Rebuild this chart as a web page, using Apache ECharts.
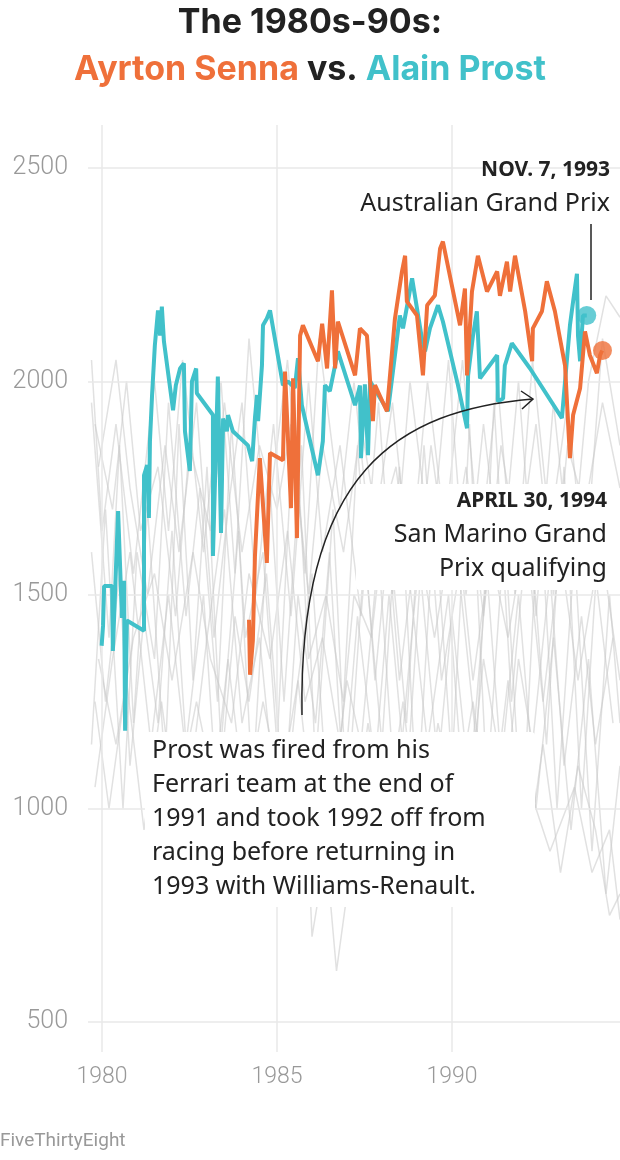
<!DOCTYPE html>
<html><head><meta charset="utf-8">
<script src="https://cdn.jsdelivr.net/npm/echarts@6/dist/echarts.min.js"></script>
<style>html,body{margin:0;padding:0;background:#fff}#c{width:620px;height:1160px}</style>
</head><body><div id="c"></div>
<script>
const yTicks = [500, 1000, 1500, 2000, 2500];
const xTicks = [1980, 1985, 1990];
const prost = [[1979.99,1381],[1980.03,1428],[1980.06,1521],[1980.29,1521],[1980.31,1369],[1980.46,1696],[1980.57,1446],[1980.63,1533],[1980.66,1182],[1980.71,1440],[1981.2,1416],[1981.2,1780],[1981.29,1804],[1981.34,1680],[1981.37,1860],[1981.43,1967],[1981.51,2084],[1981.6,2166],[1981.66,2107],[1981.71,2175],[1981.77,2093],[1982.03,1932],[1982.11,1991],[1982.23,2030],[1982.34,2042],[1982.37,1883],[1982.51,1790],[1982.57,2000],[1982.69,2030],[1982.71,1972],[1983.17,1921],[1983.17,1591],[1983.31,2011],[1983.4,1645],[1983.46,1913],[1983.57,1883],[1983.6,1921],[1983.74,1883],[1984.17,1850],[1984.29,1813],[1984.37,1914],[1984.43,1968],[1984.46,1907],[1984.57,2037],[1984.6,2131],[1984.71,2147],[1984.8,2166],[1985.17,1991],[1985.31,2000],[1985.51,1984],[1985.6,2054],[1985.71,1944],[1986.17,1780],[1986.31,1860],[1986.37,1991],[1986.51,1977],[1986.74,2070],[1987.23,1944],[1987.37,1990],[1987.4,1820],[1987.51,1993],[1987.6,1827],[1987.66,2000],[1988.17,1930],[1988.37,2061],[1988.51,2154],[1988.6,2124],[1988.86,2241],[1989.14,2100],[1989.23,2070],[1989.37,2124],[1989.6,2178],[1989.74,2140],[1990.17,1991],[1990.43,1890],[1990.46,2014],[1990.6,2107],[1990.71,2164],[1990.8,2007],[1991.29,2061],[1991.31,1953],[1991.46,1960],[1991.51,2037],[1991.71,2089],[1992.23,2030],[1993.14,1914],[1993.23,2000],[1993.37,2131],[1993.46,2187],[1993.57,2252],[1993.6,2107],[1993.66,2047],[1993.74,2154],[1993.85,2154]];
const senna = [[1984.2,1442],[1984.23,1313],[1984.31,1393],[1984.37,1591],[1984.51,1820],[1984.71,1575],[1984.8,1832],[1985.17,1815],[1985.23,2023],[1985.4,1703],[1985.46,2007],[1985.57,1633],[1985.66,2107],[1985.74,2131],[1986.17,2047],[1986.29,2135],[1986.43,2030],[1986.57,2213],[1986.66,2030],[1986.74,2140],[1987.23,2014],[1987.37,2124],[1987.57,2107],[1987.74,1907],[1987.8,1991],[1988.14,1930],[1988.37,2147],[1988.57,2257],[1988.66,2294],[1988.71,2187],[1989.0,2154],[1989.17,2014],[1989.29,2178],[1989.51,2201],[1989.66,2311],[1989.74,2327],[1990.23,2131],[1990.37,2217],[1990.43,2014],[1990.57,2210],[1990.74,2294],[1991.0,2210],[1991.29,2257],[1991.37,2200],[1991.57,2280],[1991.66,2210],[1991.8,2294],[1992.09,2164],[1992.29,2047],[1992.31,2124],[1992.57,2164],[1992.71,2234],[1992.94,2164],[1993.23,2037],[1993.37,1820],[1993.46,1921],[1993.66,1984],[1993.8,2117],[1993.94,2061],[1994.14,2019],[1994.23,2061],[1994.29,2072]];
const prostLast = [[1993.85,2154]];
const sennaLast = [[1994.3,2072]];
const grayA = [[1979.7,1950],[1980.2,1400],[1980.5,1850],[1980.9,1200],[1981.3,1700],[1981.8,1100],[1982.2,1900],[1982.6,1300],[1983.0,1800],[1983.4,1150],[1983.9,1650],[1984.3,1050],[1984.8,1750],[1985.2,1250],[1985.7,1850],[1986.1,1100],[1986.6,1700],[1987.0,1000],[1987.5,1600],[1988.0,1150],[1988.5,1800],[1989.0,1000],[1989.5,1700],[1990.0,1100],[1990.5,1900],[1991.0,1050],[1991.5,1650],[1992.0,950],[1992.5,1750],[1993.0,1000],[1993.5,1600],[1994.0,900],[1994.5,1500],[1994.8,1200]];
const grayB = [[1979.7,1150],[1980.1,1700],[1980.6,1000],[1981.0,1600],[1981.5,1350],[1981.9,1950],[1982.4,1450],[1982.8,1750],[1983.3,1250],[1983.7,1900],[1984.1,1400],[1984.6,1600],[1985.0,1150],[1985.5,1950],[1985.9,1350],[1986.4,1500],[1986.9,1250],[1987.3,1850],[1987.8,1300],[1988.2,1650],[1988.7,1200],[1989.2,1850],[1989.7,1300],[1990.2,1550],[1990.7,1150],[1991.2,1950],[1991.7,1250],[1992.2,1700],[1992.7,1150],[1993.2,1800],[1993.7,1000],[1994.2,1650],[1994.8,1300]];
const grayC = [[1979.8,1050],[1980.3,1350],[1980.8,1600],[1981.4,1150],[1981.9,1500],[1982.5,1050],[1983.0,1400],[1983.5,1700],[1984.0,1200],[1984.5,1400],[1985.1,900],[1985.6,1300],[1986.0,1550],[1986.5,950],[1987.0,1300],[1987.4,1150],[1987.9,1600],[1988.4,1000],[1988.9,1450],[1989.3,1150],[1989.9,1500],[1990.4,950],[1990.9,1350],[1991.4,1100],[1991.9,1500],[1992.4,1000],[1992.9,1400],[1993.4,950],[1993.9,1350],[1994.4,800],[1994.8,1100]];
const grayD = [[1979.7,2050],[1980.0,1650],[1980.4,1900],[1980.9,1550],[1981.5,2000],[1981.9,1650],[1982.3,2050],[1982.9,1600],[1983.4,2000],[1983.8,1550],[1984.2,2100],[1984.7,1650],[1985.3,2050],[1985.8,1550],[1986.2,2100],[1986.8,1700],[1987.2,2000],[1987.7,1600],[1988.3,1950],[1988.8,1550],[1989.3,2000],[1989.8,1650],[1990.3,2050],[1990.8,1600],[1991.3,2000],[1991.8,1500],[1992.3,2050],[1992.8,1650],[1993.3,1950],[1993.8,1550],[1994.3,2100],[1994.8,1850]];
const grayE = [[1979.8,1250],[1980.2,1000],[1980.7,1300],[1981.2,950],[1981.7,1250],[1982.1,1000],[1982.7,1250],[1983.2,1050],[1983.6,1350],[1984.1,1000],[1984.6,1250],[1985.1,1050],[1985.6,1300],[1986.2,850],[1986.6,1100],[1987.1,900],[1987.6,1200],[1988.1,950],[1988.6,1250],[1989.1,900],[1989.6,1200],[1990.1,1000],[1990.6,1250],[1991.1,950],[1991.6,1300],[1992.1,850],[1992.6,1150],[1993.1,850],[1993.6,1100],[1994.1,950],[1994.5,750],[1994.8,800]];
const grayF = [[1979.9,1800],[1980.4,2050],[1980.8,1750],[1981.3,1500],[1981.8,1850],[1982.2,1600],[1982.7,1950],[1983.2,1400],[1983.6,1700],[1984.0,1950],[1984.4,1500],[1984.9,1900],[1985.4,1450],[1985.9,2000],[1986.3,1600],[1986.8,1850],[1987.4,1450],[1987.9,1950],[1988.3,1500],[1988.8,2000],[1989.4,1600],[1989.9,2050],[1990.4,1500],[1990.9,1900],[1991.4,1550],[1991.9,2000],[1992.4,1450],[1992.9,1950],[1993.4,1550],[1993.9,2000],[1994.4,2200],[1994.8,2150]];
const grayG = [[1985.8,1100],[1986.0,700],[1986.4,900],[1986.7,620],[1987.0,800],[1987.5,1000],[1988.0,850],[1988.6,1100],[1989.2,900],[1989.8,1150],[1990.3,950],[1991.0,1100],[1991.6,850],[1992.2,1050],[1992.8,900],[1993.5,1050],[1994.0,850],[1994.5,950],[1994.8,740]];
const grayH = [[1979.7,1600],[1980.1,1250],[1980.5,1550],[1980.8,1100],[1981.2,1450],[1981.6,1200],[1982.0,1650],[1982.4,1150],[1982.9,1500],[1983.3,1000],[1983.8,1450],[1984.2,1250],[1984.7,1550],[1985.2,1000],[1985.6,1500],[1986.1,1200],[1986.5,1600],[1986.9,1050],[1987.3,1450],[1987.8,1100],[1988.2,1500],[1988.7,1050],[1989.1,1550],[1989.6,1100],[1990.0,1450],[1990.5,1050],[1991.0,1550],[1991.5,1000],[1991.9,1350],[1992.3,1150],[1992.8,1550],[1993.2,1100],[1993.7,1450],[1994.1,1150],[1994.6,1400]];
const grayI = [[1979.8,1900],[1980.3,1700],[1980.7,2000],[1981.1,1650],[1981.6,1800],[1982.1,1450],[1982.5,1850],[1983.1,1650],[1983.5,1950],[1984.0,1600],[1984.5,1850],[1985.0,1700],[1985.4,1900],[1985.9,1500],[1986.3,1850],[1986.9,1600],[1987.4,1900],[1987.9,1650],[1988.4,1800],[1988.9,1450],[1989.4,1850],[1989.9,1550],[1990.4,1800],[1990.9,1450],[1991.4,1850],[1991.9,1600],[1992.4,1900],[1992.9,1500],[1993.3,1850],[1993.8,1700],[1994.3,1950],[1994.8,1750]];
const grayJ = [[1979.9,1350],[1980.4,1150],[1980.9,1400],[1981.5,1550],[1982.0,1300],[1982.6,1600],[1983.1,1350],[1983.7,1200],[1984.2,1550],[1984.8,1350],[1985.3,1650],[1985.8,1250],[1986.3,1400],[1986.8,1150],[1987.2,1500],[1987.7,1400],[1988.1,1700],[1988.5,1300],[1989.0,1650],[1989.5,1400],[1990.1,1700],[1990.6,1300],[1991.1,1600],[1991.6,1400],[1992.1,1650],[1992.6,1250],[1993.1,1600],[1993.6,1300],[1994.1,1550],[1994.6,1200]];
const grays = [grayA, grayB, grayC, grayD, grayE, grayF, grayG, grayH, grayI, grayJ];

const ORANGE = '#ef703a', TEAL = '#41c1ca';
const chart = echarts.init(document.getElementById('c'), null, {renderer: 'canvas'});
const series = grays.map(g => ({type:'line', data:g, symbol:'none', silent:true,
  lineStyle:{color:'rgba(200,200,200,0.55)', width:1.5}, z:1}));
series.push({type:'line', data:[], symbol:'none', silent:true,
  markLine:{symbol:'none', silent:true, label:{show:false}, lineStyle:{color:'#e8e8e8', width:1.5, type:'solid'},
    data: yTicks.map(v => ({yAxis:v})).concat(xTicks.map(v => ({xAxis:v})))}, z:0});
series.push({type:'line', data:prost, symbol:'none', lineStyle:{color:TEAL, width:4}, z:5});
series.push({type:'line', data:senna, symbol:'none', lineStyle:{color:ORANGE, width:4}, z:6});
series.push({type:'scatter', data:prostLast, symbolSize:19, itemStyle:{color:TEAL}, z:7});
series.push({type:'scatter', data:sennaLast, symbolSize:19, itemStyle:{color:ORANGE}, z:7});

const TF = 'bold 34px Inter, "Noto Sans", sans-serif';
const BF = '25px "Noto Sans", sans-serif';
const txt = (x, y, s, o) => Object.assign({type:'text', z:100, style:Object.assign({x, y, text:s, fill:'#222',
  font:BF, textVerticalAlign:'middle'}, o||{})});
const graphic = [
  txt(310, 23, 'The 1980s-90s:', {textAlign:'center', font:TF}),
  {type:'text', z:100, style:{x:310, y:70, textAlign:'center', textVerticalAlign:'middle',
    rich:{o:{fill:ORANGE, font:TF}, k:{fill:'#222', font:TF}, t:{fill:TEAL, font:TF}},
    text:'{o|Ayrton Senna}{k| vs. }{t|Alain Prost}'}},
  txt(610, 170, 'NOV. 7, 1993', {textAlign:'right', font:'bold 21px "Noto Sans", sans-serif'}),
  txt(610, 204, 'Australian Grand Prix', {textAlign:'right'}),
  {type:'line', z:90, shape:{x1:591, y1:224, x2:591, y2:300}, style:{stroke:'#222', lineWidth:1.5}},
  {type:'rect', z:95, shape:{x:356, y:484, width:258, height:106, r:4}, style:{fill:'#fff'}},
  txt(607, 501, 'APRIL 30, 1994', {textAlign:'right', font:'bold 21px "Noto Sans", sans-serif'}),
  txt(607, 535, 'San Marino Grand', {textAlign:'right'}),
  txt(607, 569, 'Prix qualifying', {textAlign:'right'}),
  {type:'bezierCurve', z:90, shape:{x1:302, y1:715, cpx1:298, cpy1:470, cpx2:400, cpy2:410, x2:533, y2:399}, style:{stroke:'#222', lineWidth:1.5, fill:null}},
  {type:'polyline', z:90, shape:{points:[[521,391],[533,399],[522,409]]}, style:{stroke:'#222', lineWidth:1.5, fill:null}},
  {type:'rect', z:95, shape:{x:145, y:732, width:390, height:175, r:4}, style:{fill:'#fff'}},
  txt(152, 751, 'Prost was fired from his'),
  txt(152, 785, 'Ferrari team at the end of'),
  txt(152, 819, '1991 and took 1992 off from'),
  txt(152, 853, 'racing before returning in'),
  txt(152, 887, '1993 with Williams-Renault.'),
  txt(0, 1141, 'FiveThirtyEight', {fill:'#999', font:'19px Roboto, sans-serif'})
];

chart.setOption({
  animation:false,
  grid:{left:88, right:0, top:125, bottom:1160-1052},
  xAxis:{type:'value', min:1979.6, max:1994.8, splitLine:{show:false}, axisLine:{show:false}, axisTick:{show:false},
    axisLabel:{customValues:xTicks, formatter:v => String(v), color:'#999', fontSize:23, margin:14, fontFamily:'Roboto, sans-serif', fontWeight:300}},
  yAxis:{type:'value', min:430, max:2600, splitLine:{show:false}, axisLine:{show:false}, axisTick:{show:false},
    axisLabel:{customValues:yTicks, formatter:v => String(v), color:'#999', fontSize:25, margin:20, fontFamily:'Roboto, sans-serif', fontWeight:300}},
  series, graphic
});
</script></body></html>
